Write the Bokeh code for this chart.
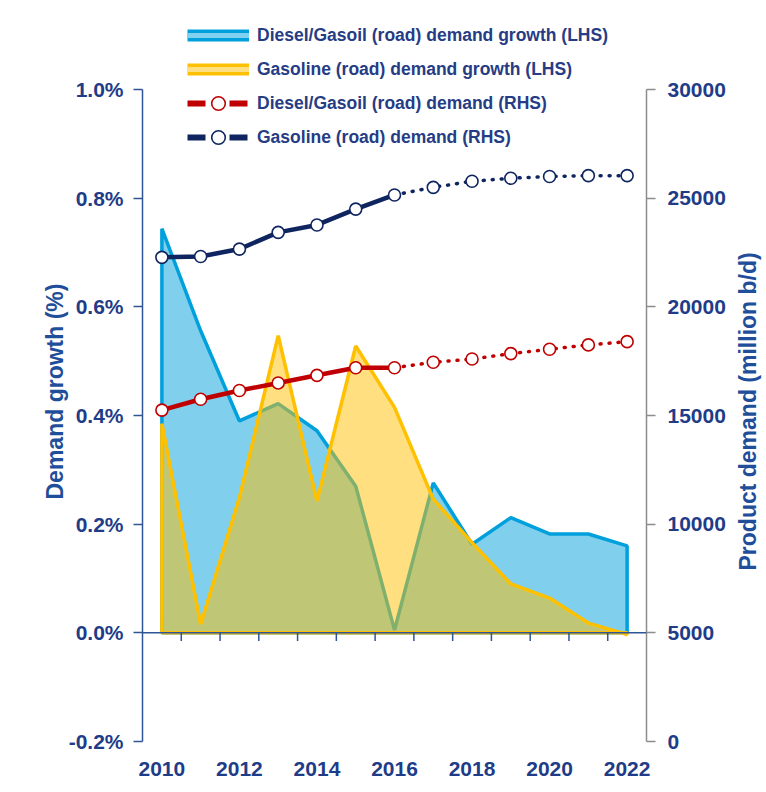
from bokeh.plotting import figure
from bokeh.layouts import row
from bokeh.models import (Range1d, LinearAxis, FixedTicker, PrintfTickFormatter,
                          Span, Legend, LegendItem, Title)
from bokeh.embed import file_html
from bokeh.resources import INLINE

# ---------------- data ----------------
years = list(range(2010, 2023))
diesel_growth = [0.744, 0.556, 0.390, 0.422, 0.372, 0.270, 0.005, 0.276, 0.163, 0.212, 0.182, 0.182, 0.160]
gasoline_growth = [0.385, 0.016, 0.249, 0.547, 0.243, 0.528, 0.415, 0.246, 0.166, 0.090, 0.064, 0.018, -0.003]
diesel_demand = [15250, 15750, 16150, 16500, 16850, 17200, 17200, 17450, 17600, 17850, 18050, 18250, 18400]
gasoline_demand = [22280, 22320, 22660, 23430, 23770, 24500, 25150, 25500, 25780, 25920, 26000, 26040, 26040]
last_actual_year = 2016
x_ticks = [2010, 2012, 2014, 2016, 2018, 2020, 2022]
left_ticks = [-0.2, 0.0, 0.2, 0.4, 0.6, 0.8, 1.0]
right_ticks = [0, 5000, 10000, 15000, 20000, 25000, 30000]
labels = ["Diesel/Gasoil (road) demand growth (LHS)",
          "Gasoline (road) demand growth (LHS)",
          "Diesel/Gasoil (road) demand (RHS)",
          "Gasoline (road) demand (RHS)"]
left_title = "Demand growth (%)"
right_title = "Product demand (million b/d)"

# ---------------- styles ----------------
FONT = "Liberation Sans"
BLUE = "#00A0DC"
BLUE_LIGHT = "#80D0F0"
YELLOW = "#FFC000"
YELLOW_LIGHT = "#FFE080"
RED = "#C00000"
NAVY = "#0F2560"
TICK_TEXT = "#1F3C88"
TITLE_TEXT = "#1F4E9A"
AXIS_BLUE = "#2F5597"
TITLE_SIZE = "23px"
H = 786
TOP, BOTTOM = 16, 45


def side_title(text, offset):
    t = Title(text=text, align="left", offset=offset, standoff=0,
              text_font=FONT, text_font_style="bold", text_font_size=TITLE_SIZE,
              text_color=TITLE_TEXT)
    try:
        t.standoff = -5
    except Exception:
        pass
    return t


# ---------------- main chart ----------------
x0, x1 = 2009.5, 2022.5
y_top = 1.1345
p = figure(width=730, height=H, output_backend="svg", toolbar_location=None,
           x_range=Range1d(x0, x1), y_range=Range1d(-0.2, y_top),
           min_border_left=142, min_border_right=84, min_border_top=TOP, min_border_bottom=BOTTOM)
p.extra_y_ranges = {"rhs": Range1d(0, 30000 + (y_top - 1.0) * 25000)}
p.outline_line_color = None
p.grid.visible = False
p.background_fill_color = "white"

# x axis (labels only)
xa = p.xaxis[0]
xa.ticker = FixedTicker(ticks=x_ticks)
xa.axis_line_color = None
xa.major_tick_line_color = None
xa.minor_tick_line_color = None
xa.major_label_standoff = 14
xa.major_label_text_font = FONT
xa.major_label_text_font_style = "bold"
xa.major_label_text_font_size = "21px"
xa.major_label_text_color = TICK_TEXT

# left axis
ya = p.yaxis[0]
ya.ticker = FixedTicker(ticks=left_ticks)
ya.formatter = PrintfTickFormatter(format="%.1f%%")
ya.bounds = (left_ticks[0], left_ticks[-1])
ya.axis_line_color = AXIS_BLUE
ya.axis_line_width = 1.5
ya.major_tick_line_color = AXIS_BLUE
ya.major_tick_line_width = 1.5
ya.major_tick_out = 9
ya.major_tick_in = 0
ya.minor_tick_line_color = None
ya.major_label_standoff = 10
ya.major_label_text_font = FONT
ya.major_label_text_font_style = "bold"
ya.major_label_text_font_size = "21px"
ya.major_label_text_color = TICK_TEXT

# left title, reading bottom-to-top, started 242px above the frame bottom
p.add_layout(side_title(left_title, 242), "left")

# right axis
ra = LinearAxis(y_range_name="rhs", ticker=FixedTicker(ticks=right_ticks),
                formatter=PrintfTickFormatter(format="%d"),
                bounds=(right_ticks[0], right_ticks[-1]))
ra.axis_line_color = "#8C8C8C"
ra.axis_line_width = 1.5
ra.major_tick_line_color = "#8C8C8C"
ra.major_tick_line_width = 1.5
ra.major_tick_out = 9
ra.major_tick_in = 0
ra.minor_tick_line_color = None
ra.major_label_standoff = 12
ra.major_label_text_font = FONT
ra.major_label_text_font_style = "bold"
ra.major_label_text_font_size = "21px"
ra.major_label_text_color = TICK_TEXT
p.add_layout(ra, "right")

# ---------------- areas ----------------
poly_x = [years[0]] + years + [years[-1]]
p.patch(poly_x, [0] + diesel_growth + [0], fill_color=BLUE, fill_alpha=0.5,
        line_color=BLUE, line_width=3.5)
p.patch(poly_x, [0] + gasoline_growth + [0], fill_color=YELLOW, fill_alpha=0.5,
        line_color=YELLOW, line_width=3.5)

# zero baseline with category ticks between years
p.add_layout(Span(location=0, dimension="width", line_color=AXIS_BLUE, line_width=1.5))
mids = [y + 0.5 for y in years[:-1]]
p.segment(x0=mids, y0=[0] * len(mids), x1=mids, y1=[-0.015] * len(mids),
          line_color=AXIS_BLUE, line_width=1.5)

# ---------------- demand lines ----------------
k = years.index(last_actual_year) + 1
for vals, col in ((diesel_demand, RED), (gasoline_demand, NAVY)):
    p.line(years[:k], vals[:k], y_range_name="rhs", line_color=col, line_width=4.5)
    p.line(years[k - 1:], vals[k - 1:], y_range_name="rhs", line_color=col,
           line_width=3.5, line_dash="1 8", line_cap="round")
r_dm = p.scatter(years, diesel_demand, y_range_name="rhs", size=12, fill_color="white",
                 line_color=RED, line_width=1.6)
r_gm = p.scatter(years, gasoline_demand, y_range_name="rhs", size=12, fill_color="white",
                 line_color=NAVY, line_width=1.6)

# ---------------- legend ----------------
nan = float("nan")
def dummy_line(**kw):
    return p.line(x=[nan], y=[nan], **kw)

b1 = dummy_line(line_color=BLUE, line_width=12)
b2 = dummy_line(line_color=BLUE_LIGHT, line_width=5)
y1 = dummy_line(line_color=YELLOW, line_width=12)
y2 = dummy_line(line_color=YELLOW_LIGHT, line_width=5)
rd = dummy_line(line_color=RED, line_width=6, line_dash="18 24")
nd = dummy_line(line_color=NAVY, line_width=6, line_dash="18 24")

legend = Legend(items=[LegendItem(label=labels[0], renderers=[b1, b2]),
                       LegendItem(label=labels[1], renderers=[y1, y2]),
                       LegendItem(label=labels[2], renderers=[rd, r_dm]),
                       LegendItem(label=labels[3], renderers=[nd, r_gm])],
                location=(45, 587), orientation="vertical",
                glyph_width=62, glyph_height=34, label_height=34, spacing=0,
                padding=0, margin=0, label_standoff=8,
                border_line_color=None, background_fill_alpha=0,
                label_text_font=FONT, label_text_font_style="bold",
                label_text_font_size="17.5px", label_text_color="#263C84")
p.add_layout(legend, "center")

# ---------------- right title strip (same borders so frames stay aligned) ----------------
p_right = figure(width=34, height=H, output_backend="svg", toolbar_location=None,
                 x_range=Range1d(0, 1), y_range=Range1d(0, 1),
                 x_axis_location=None, y_axis_location=None,
                 min_border_left=28, min_border_right=0,
                 min_border_top=TOP, min_border_bottom=BOTTOM)
p_right.outline_line_color = None
p_right.grid.visible = False
p_right.add_layout(side_title(right_title, 171), "left")

layout = row(p, p_right)
open("out.html", "w").write(file_html(layout, INLINE))
